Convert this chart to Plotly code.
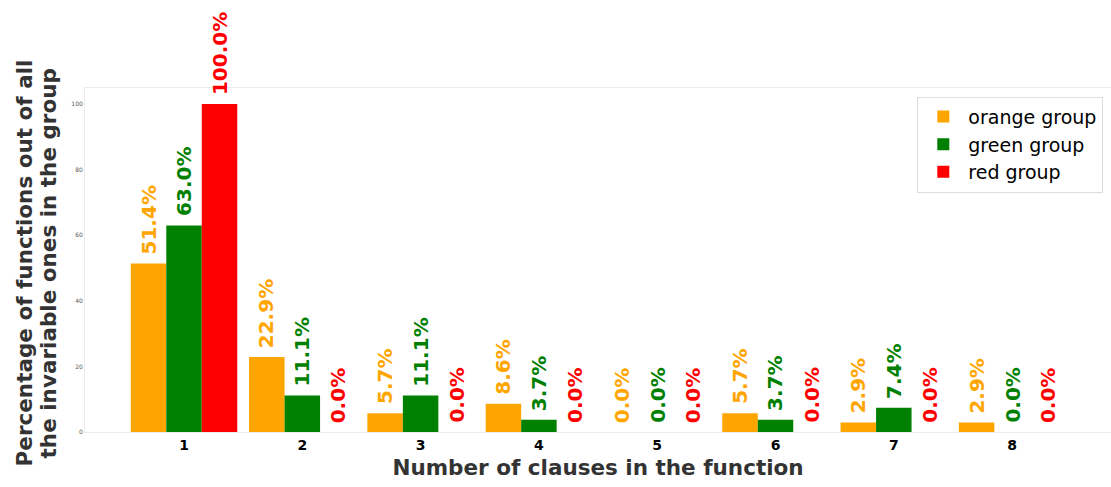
import plotly.graph_objects as go

categories = [1, 2, 3, 4, 5, 6, 7, 8]
tick_labels = ["1", "2", "3", "4", "5", "6", "7", "8"]
orange_vals = [51.4, 22.9, 5.7, 8.6, 0.0, 5.7, 2.9, 2.9]
green_vals = [63.0, 11.1, 11.1, 3.7, 0.0, 3.7, 7.4, 0.0]
red_vals = [100.0, 0.0, 0.0, 0.0, 0.0, 0.0, 0.0, 0.0]
series_names = ["orange group", "green group", "red group"]
series_colors = ["#FFA500", "#008000", "#FF0000"]
series_vals = [orange_vals, green_vals, red_vals]
y_title_lines = ["Percentage of functions out of all", "the invariable ones in the group"]

FONT = "DejaVu Sans, sans-serif"
fig = go.Figure()
for name, color, vals in zip(series_names, series_colors, series_vals):
    fig.add_trace(go.Bar(x=categories, y=vals, name=name, marker=dict(color=color, line=dict(width=0)),
                         offsetgroup=name))

bar_w = 0.3
offsets = [-bar_w, 0, bar_w]
for off, color, vals in zip(offsets, series_colors, series_vals):
    for c, v in zip(categories, vals):
        fig.add_annotation(x=c + off, y=v, text=f"<b>{v:.1f}%</b>", textangle=-90,
                           showarrow=False, xanchor="center", yanchor="bottom", yshift=7,
                           font=dict(family=FONT, size=20, color=color))

for i, line in enumerate(y_title_lines):
    fig.add_annotation(xref="paper", yref="paper", x=0, y=0.49, xanchor="center", yanchor="middle",
                       xshift=-61 + 24 * i, text=f"<b>{line}</b>", textangle=-90, showarrow=False,
                       font=dict(family=FONT, size=21.5, color="#333333"))

fig.update_layout(
    width=1111, height=487,
    margin=dict(l=85, r=0, t=88, b=55),
    paper_bgcolor="white", plot_bgcolor="white",
    barmode="group", bargap=0.1, bargroupgap=0,
    font=dict(family=FONT),
    showlegend=True,
    legend=dict(x=0.9925, y=0.975, xanchor="right", yanchor="top",
                font=dict(family=FONT, size=19, color="black"),
                bordercolor="#dddddd", borderwidth=1, bgcolor="white",
                itemwidth=40, tracegroupgap=2),
    xaxis=dict(range=[0.163, 8.836], tickmode="array", tickvals=categories, ticktext=tick_labels,
               tickfont=dict(family=FONT, size=14, color="black", weight="bold"),
               showgrid=False, zeroline=False, showline=True, linecolor="#ebebeb", linewidth=1, mirror=True,
               ticks="", title=dict(text="<b>Number of clauses in the function</b>", standoff=8,
                                    font=dict(family=FONT, size=21.5, color="#333333"))),
    yaxis=dict(range=[0, 104.9], tickvals=[0, 20, 40, 60, 80, 100],
               tickfont=dict(family=FONT, size=6, color="#555555"),
               showgrid=False, zeroline=False, showline=True, linecolor="#ebebeb", linewidth=1, mirror=True,
               ticks=""),
)

fig.write_html("out.html", config={"displayModeBar": False},
               post_script="document.body.style.margin='0px';")
